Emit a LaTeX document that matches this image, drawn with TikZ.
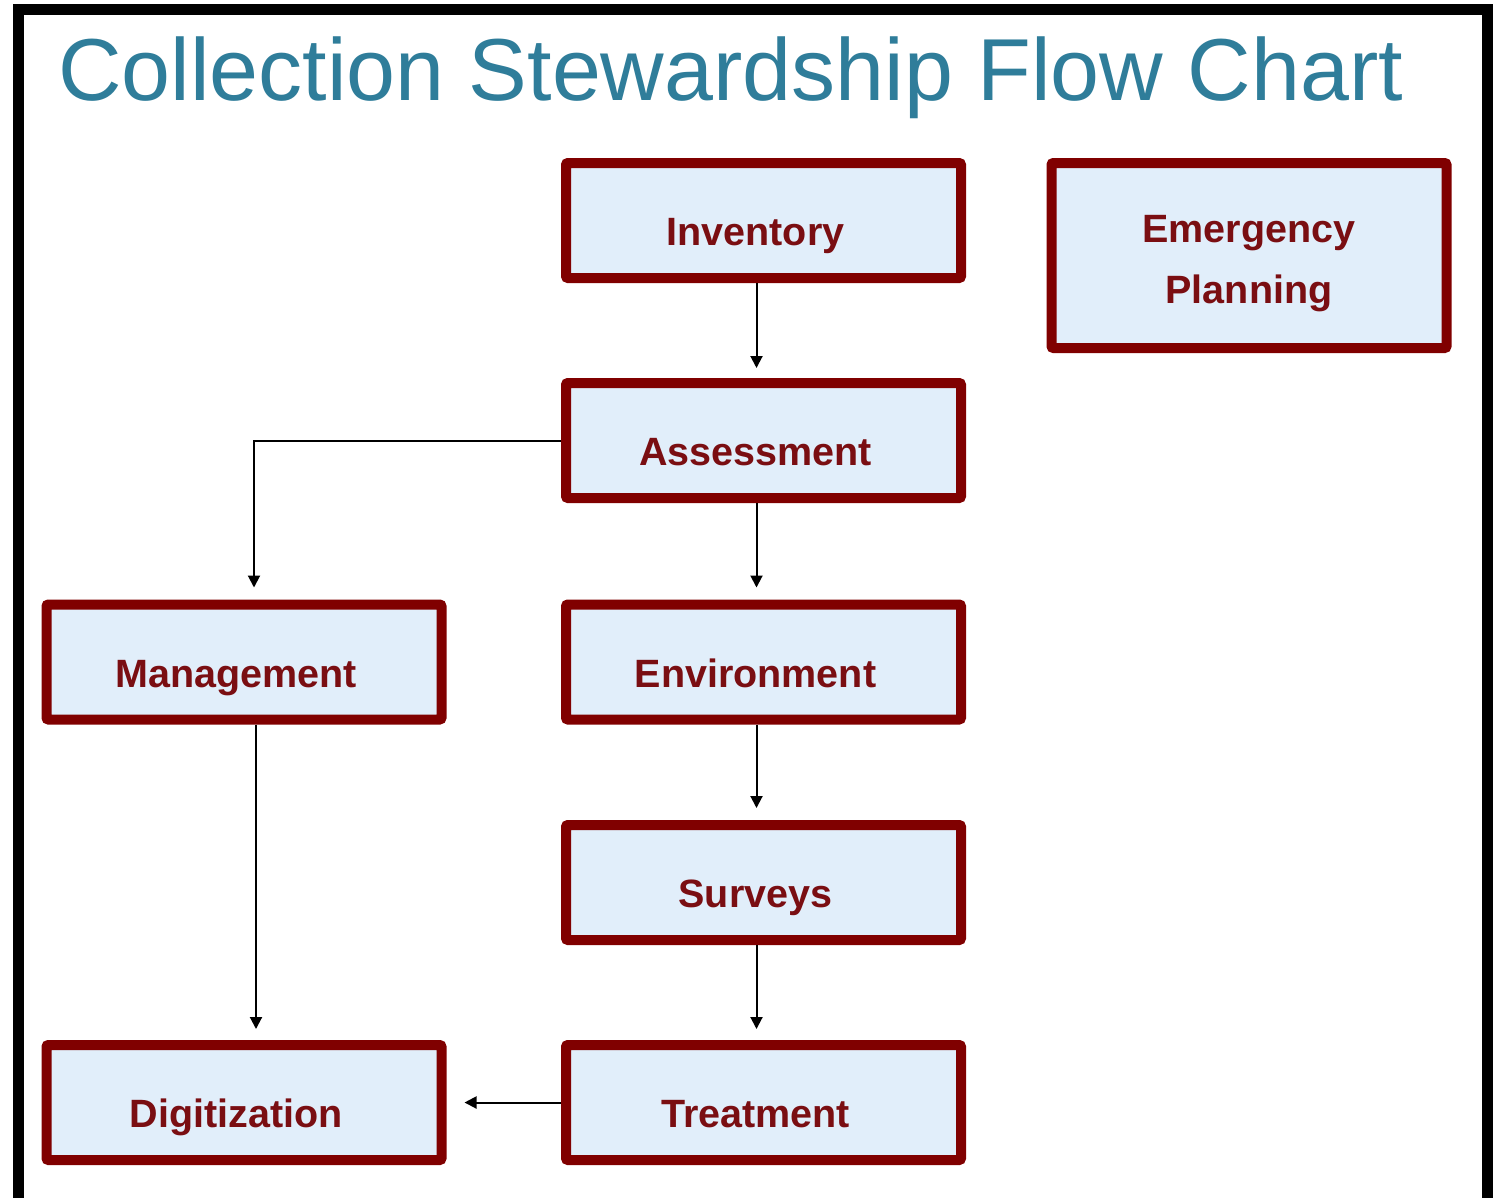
\documentclass[tikz,border=0pt]{standalone}
\usepackage{fontspec}
\setmainfont{Liberation Sans}
\usetikzlibrary{arrows.meta,positioning}
\definecolor{boxred}{RGB}{128,0,0}
\definecolor{boxtext}{RGB}{122,14,18}
\definecolor{boxfill}{RGB}{225,238,250}
\definecolor{headblue}{RGB}{47,125,154}
\tikzset{
  node-box/.style={draw=boxred,fill=boxfill,rectangle,rounded corners=2pt,line width=10pt,minimum width=395pt,minimum height=115pt,inner sep=0pt,text=boxtext,font=\fontsize{39.5}{61}\selectfont\bfseries},
  node-one/.style={node-box,text height=50pt,text depth=0pt,execute at end node={\hspace{16pt}}},
  flow/.style={-{Triangle[length=12pt,width=12pt]},line width=2pt,black},
  head/.style={font=\fontsize{88}{100}\selectfont,text=headblue,inner sep=0pt,anchor=base west},
  frame/.style={draw,black,line width=11pt},
}
\begin{document}
\begin{tikzpicture}[x=1pt,y=-1pt]
  \useasboundingbox (0,0) rectangle (1504,1197);
  \fill[white] (0,0) rectangle (1504,1197);
  \draw[frame] (18.5,9.5) rectangle (1487.5,1203);

  \node[head] (title) at (58,100) {Collection Stewardship Flow Chart};

  % COLUMN 1: main chain
  \node[node-one] (inv) at (763.5,220.5)  {Inventory};
  \node[node-one] (ass) at (763.5,440.5)  {Assessment};
  \node[node-one] (env) at (763.5,662)    {Environment};
  \node[node-one] (sur) at (763.5,882.5)  {Surveys};
  \node[node-one] (tre) at (763.5,1102.5) {Treatment};

  % COLUMN 0: side branch
  \node[node-one] (man) at (244,662)    {Management};
  \node[node-one] (dig) at (244,1102.5) {Digitization};

  % standalone
  \node[node-box,align=center,minimum height=185pt,text height=95pt,text depth=0pt] (emg) at (1249,255.5) {Emergency\\Planning};

  \draw[flow,shorten >=10pt] ([xshift=-7pt]inv.south) -- ([xshift=-7pt]ass.north);
  \draw[flow,shorten >=12pt] ([xshift=-7pt]ass.south) -- ([xshift=-7pt]env.north);
  \draw[flow,shorten >=12pt] ([xshift=-7pt]env.south) -- ([xshift=-7pt]sur.north);
  \draw[flow,shorten >=11pt] ([xshift=-7pt]sur.south) -- ([xshift=-7pt]tre.north);
  \draw[flow,shorten >=12pt] (ass.west) -| ([xshift=10pt]man.north);
  \draw[flow,shorten >=11pt] ([xshift=12pt]man.south) -- ([xshift=12pt]dig.north);
  \draw[flow,shorten >=18pt] (tre.west) -- (dig.east);

\end{tikzpicture}
\end{document}
